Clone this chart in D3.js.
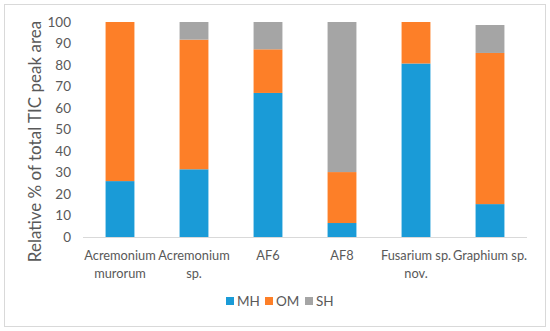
<!DOCTYPE html>
<html>
<head>
<meta charset="utf-8">
<script src="https://cdn.jsdelivr.net/npm/d3@7"></script>
<style>
  body { margin: 0; background: #fff; }
  text { font-family: Lato, "Open Sans", sans-serif; fill: #595959; }
</style>
</head>
<body>
<div id="chart"></div>
<script>
const categories = [
  ['Acremonium', 'murorum'],
  ['Acremonium', 'sp.'],
  ['AF6'],
  ['AF8'],
  ['Fusarium sp.', 'nov.'],
  ['Graphium sp.']
];
const seriesNames = ['MH', 'OM', 'SH'];
const mh = [26, 31.5, 67, 6.5, 80.7, 15.3];
const om = [74, 60.3, 20.3, 23.7, 19.3, 70.3];
const sh = [0, 8.2, 12.7, 69.8, 0, 13];
const yTicks = [0, 10, 20, 30, 40, 50, 60, 70, 80, 90, 100];
const colors = ['#1a9bd7', '#fd7f28', '#a5a5a5'];

const width = 550, height = 331;
const margin = { top: 22, right: 23, bottom: 94, left: 83 };

const svg = d3.select('#chart')
  .append('svg')
    .attr('width', width)
    .attr('height', height);

svg.append('rect')
    .attr('x', 4.5).attr('y', 4.5)
    .attr('width', width - 9).attr('height', height - 9)
    .attr('fill', '#fff')
    .attr('stroke', '#d9d9d9');

const x = d3.scaleBand()
    .domain(categories.map((d, i) => i))
    .range([margin.left, width - margin.right])
    .paddingInner(0.61)
    .paddingOuter(0.305);

const y = d3.scaleLinear()
    .domain([0, 100])
    .range([height - margin.bottom, margin.top]);

const table = categories.map((c, i) => ({ i, MH: mh[i], OM: om[i], SH: sh[i] }));
const stacked = d3.stack().keys(seriesNames)(table);

svg.append('g')
  .selectAll('g')
  .data(stacked)
  .join('g')
    .attr('fill', (_, i) => colors[i])
  .selectAll('rect')
  .data(d => d)
  .join('rect')
    .attr('x', d => x(d.data.i))
    .attr('y', d => y(d[1]))
    .attr('width', x.bandwidth())
    .attr('height', d => y(d[0]) - y(d[1]));

// x axis line
svg.append('line')
    .attr('x1', margin.left).attr('x2', width - margin.right)
    .attr('y1', y(0) + 0.5).attr('y2', y(0) + 0.5)
    .attr('stroke', '#d9d9d9');

// y tick labels
svg.append('g')
  .selectAll('text')
  .data(yTicks)
  .join('text')
    .attr('x', 71)
    .attr('y', d => y(d))
    .attr('dy', '0.35em')
    .attr('text-anchor', 'end')
    .attr('font-size', '13.5px')
    .text(d => d);

// category labels
svg.append('g')
  .selectAll('text')
  .data(categories)
  .join('text')
    .attr('x', (d, i) => x(i) + x.bandwidth() / 2)
    .attr('y', 260)
    .attr('text-anchor', 'middle')
    .attr('font-size', '12.8px')
  .selectAll('tspan')
  .data(d => d)
  .join('tspan')
    .attr('x', function () { return this.parentNode.getAttribute('x'); })
    .attr('dy', (d, j) => j === 0 ? 0 : 17.5)
    .text(d => d);

// y title
svg.append('text')
    .attr('transform', `translate(41,${(margin.top + height - margin.bottom) / 2 + 12}) rotate(-90)`)
    .attr('text-anchor', 'middle')
    .attr('font-size', '17px')
    .text('Relative % of total TIC peak area');

// legend
const legendX = [226, 265, 305];
const legend = svg.append('g')
  .selectAll('g')
  .data(seriesNames)
  .join('g')
    .attr('transform', (d, i) => `translate(${legendX[i]},301)`);

legend.append('rect')
    .attr('x', 0).attr('y', -4)
    .attr('width', 8).attr('height', 8)
    .attr('fill', (_, i) => colors[i]);

legend.append('text')
    .attr('x', 11)
    .attr('dy', '0.35em')
    .attr('font-size', '13.5px')
    .text(d => d);
</script>
</body>
</html>
